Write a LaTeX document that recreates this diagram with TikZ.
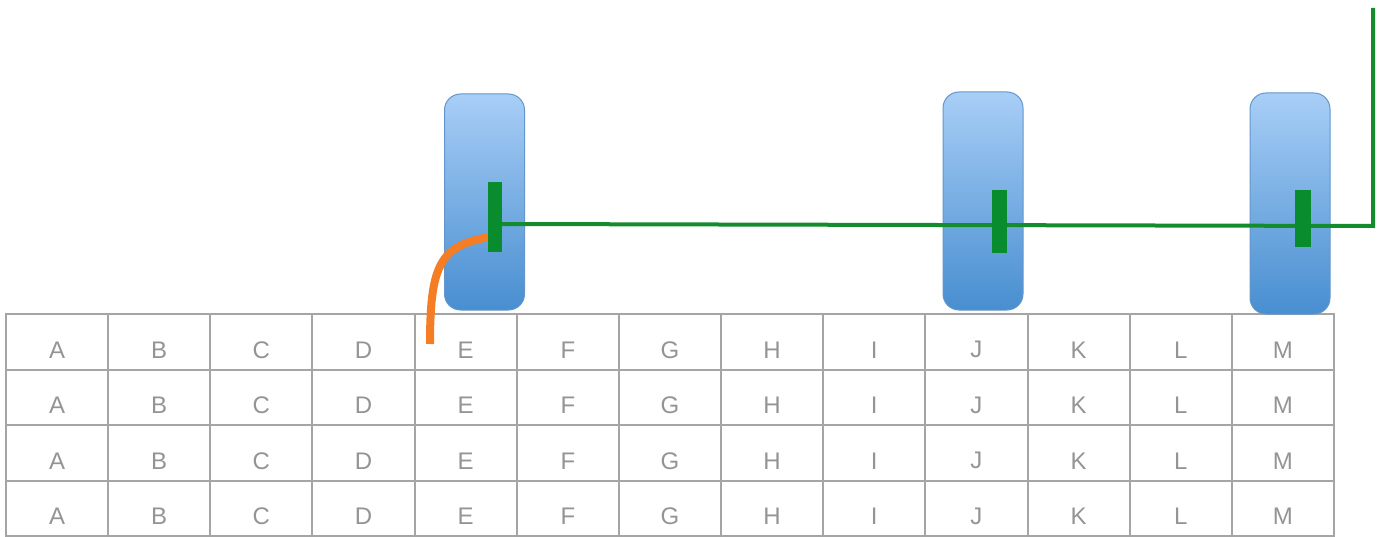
\documentclass[tikz,border=0pt]{standalone}
\usepackage{fontspec}
\setmainfont{Liberation Sans}
\usetikzlibrary{calc}
\definecolor{gridgray}{RGB}{165,165,165}
\definecolor{txtgray}{RGB}{148,148,148}
\definecolor{blueTop}{RGB}{168,206,246}
\definecolor{blueBot}{RGB}{72,142,208}
\definecolor{blueEdge}{RGB}{100,150,205}
\definecolor{tickgreen}{RGB}{8,140,45}
\definecolor{linegreen}{RGB}{20,140,45}
\definecolor{wireorange}{RGB}{245,125,35}
\tikzset{
  cell/.style={draw=gridgray, line width=2pt, minimum width=102.15pt, minimum height=55.5pt, inner sep=0pt},
  celltext/.style={text=txtgray, font=\fontsize{24}{28}\selectfont, inner sep=0pt},
  bluebox/.style={draw=blueEdge, line width=1pt, rounded corners=16pt, top color=blueTop, bottom color=blueBot, minimum width=80pt, inner sep=0pt},
  tickmark/.style={fill=tickgreen, draw=none, inner sep=0pt},
  greenline/.style={draw=linegreen, line width=4pt},
  wire/.style={draw=wireorange, line width=8pt}
}
\begin{document}
\begin{tikzpicture}[x=1pt,y=-1pt]
\useasboundingbox (0,0) rectangle (1378,537);
% table
\foreach \r in {1,...,4}{
  \foreach [count=\c] \l in {A,B,C,D,E,F,G,H,I,J,K,L,M}{
    \node[cell] (c\r-\c) at ({6+(\c-0.5)*102.15},{314+(\r-0.5)*55.5}) {};
    \node[celltext] (t\r-\c) at ($(c\r-\c.center)+(0,8)$) {\l};
  }
}
% blue boxes
\node[bluebox, minimum height=216pt] (boxE) at (484.5,202) {};
\node[bluebox, minimum height=218pt] (boxJ) at (983,201) {};
\node[bluebox, minimum height=221pt] (boxM) at (1290,203.5) {};
% tick positions
\coordinate (pE) at (495,217);
\coordinate (pJ) at (999.5,221.5);
\coordinate (pM) at (1303,218.5);
\coordinate (gStart) at (500,224);
\coordinate (gCorner) at (1373,226);
\coordinate (gTop) at (1373,8);
\coordinate (oStart) at (490,237);
\coordinate (oEnd) at (430,344);
% green connector
\draw[greenline] (gStart) -- (gCorner) -- (gTop);
% orange wire
\draw[wire] (oStart) .. controls (440,245) and (430,265) .. (oEnd);
% ticks
\node[tickmark, minimum width=14pt, minimum height=70pt] (tE) at (pE) {};
\node[tickmark, minimum width=15pt, minimum height=63pt] (tJ) at (pJ) {};
\node[tickmark, minimum width=16pt, minimum height=57pt] (tM) at (pM) {};
\end{tikzpicture}
\end{document}
